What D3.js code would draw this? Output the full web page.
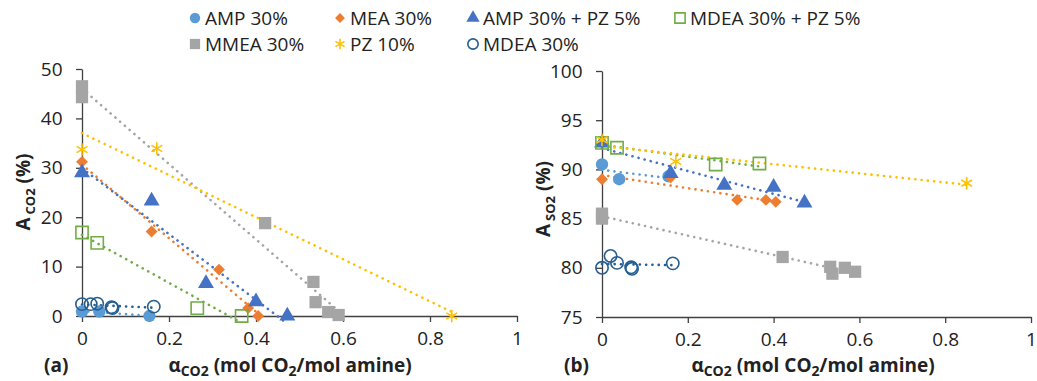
<!DOCTYPE html>
<html>
<head>
<meta charset="utf-8">
<script src="https://cdn.jsdelivr.net/npm/d3@7"></script>
<style>
  body { margin: 0; background: #fff; }
  svg { font-family: "Open Sans", sans-serif; }
</style>
</head>
<body>
<svg id="chart" width="1037" height="381"></svg>
<script>
// values: x = CO2 loading, a = A_CO2 (%), b = A_SO2 (%)
const ampX = [0, 0.04, 0.155]
const ampCO2 = [0.9, 0.9, 0]
const ampSO2 = [90.5, 89.0, 89.3]

const meaX = [0, 0.16, 0.315, 0.382, 0.405]
const meaCO2 = [31.2, 17.1, 9.4, 1.6, 0]
const meaSO2 = [89.0, 89.2, 86.9, 86.9, 86.7]

const ampPzX = [0, 0.16, 0.285, 0.4, 0.472]
const ampPzCO2 = [29.0, 23.3, 6.6, 2.9, 0]
const ampPzSO2 = [92.7, 89.6, 88.4, 88.2, 86.6]

const mdeaPzX = [0, 0.035, 0.265, 0.367]
const mdeaPzCO2 = [16.9, 14.8, 1.6, 0]
const mdeaPzSO2 = [92.7, 92.2, 90.5, 90.6]

const mmeaX = [0, 0, 0.421, 0.532, 0.537, 0.566, 0.59]
const mmeaCO2 = [46.5, 44.3, 18.8, 6.9, 2.8, 0.8, 0.2]
const mmeaSO2 = [85.5, 85.0, 81.1, 80.1, 79.4, 80.0, 79.6]

const pzX = [0, 0.172, 0.85]
const pzCO2 = [33.7, 33.9, 0]
const pzSO2 = [93.0, 90.8, 88.6]

const mdeaX = [0, 0.02, 0.035, 0.068, 0.07, 0.165]
const mdeaCO2 = [2.4, 2.4, 2.5, 1.8, 1.6, 1.9]
const mdeaSO2 = [80.0, 81.2, 80.5, 80.05, 79.9, 80.45]

const xTicks = [0, 0.2, 0.4, 0.6, 0.8, 1]
const co2Ticks = [0, 10, 20, 30, 40, 50]
const so2Ticks = [75, 80, 85, 90, 95, 100]

// series table built from the arrays above
const series = [
  { name: "AMP 30%", x: ampX, a: ampCO2, b: ampSO2, color: "#5B9BD5", shape: "circle", fill: true },
  { name: "MEA 30%", x: meaX, a: meaCO2, b: meaSO2, color: "#ED7D31", shape: "diamond", fill: true },
  { name: "AMP 30% + PZ 5%", x: ampPzX, a: ampPzCO2, b: ampPzSO2, color: "#4472C4", shape: "triangle", fill: true },
  { name: "MDEA 30% + PZ 5%", x: mdeaPzX, a: mdeaPzCO2, b: mdeaPzSO2, color: "#70AD47", shape: "square", fill: false },
  { name: "MMEA 30%", x: mmeaX, a: mmeaCO2, b: mmeaSO2, color: "#A5A5A5", shape: "square", fill: true },
  { name: "PZ 10%", x: pzX, a: pzCO2, b: pzSO2, color: "#FFC000", shape: "star", fill: false },
  { name: "MDEA 30%", x: mdeaX, a: mdeaCO2, b: mdeaSO2, color: "#255E91", shape: "circle", fill: false },
]

const svg = d3.select("#chart")
const AXIS = "#404040"

const symbolType = {
  circle: d3.symbolCircle,
  diamond: d3.symbolSquare, // rotated below
  triangle: d3.symbolTriangle,
  square: d3.symbolSquare,
  star: d3.symbolAsterisk,
}
const symbolSize = { circle: 120, diamond: 70, triangle: 110, square: 150, star: 110 }

function drawMarker(sel, s, scale) {
  const k = scale || 1
  sel.append("path")
    .attr("d", d3.symbol(symbolType[s.shape], symbolSize[s.shape] * k)())
    .attr("transform", s.shape === "diamond" ? "rotate(45)" : null)
    .attr("fill", s.fill ? s.color : "none")
    .attr("stroke", s.color)
    .attr("stroke-width", s.fill ? 0 : 1.6)
}

// least squares line like excel's linear trendline
function fit(xs, ys) {
  const mx = d3.mean(xs), my = d3.mean(ys)
  let sxy = 0, sxx = 0
  xs.forEach((x, i) => { sxy += (x - mx) * (ys[i] - my); sxx += (x - mx) * (x - mx) })
  const m = sxy / sxx
  return x => my + m * (x - mx)
}

function panel(opts) {
  const x = d3.scaleLinear().domain([0, 1]).range([opts.left, opts.right])
  const y = d3.scaleLinear().domain(opts.yDomain).range([opts.bottom, opts.top])

  const xAxis = svg.append("g")
    .attr("transform", `translate(0,${opts.bottom})`)
    .call(d3.axisBottom(x).tickValues(xTicks).tickSize(6).tickSizeOuter(0)
      .tickFormat(d => d3.format("~g")(d)))
  const yAxis = svg.append("g")
    .attr("transform", `translate(${opts.left},0)`)
    .call(d3.axisLeft(y).tickValues(opts.yTicks).tickSize(6).tickSizeOuter(0))
  for (const g of [xAxis, yAxis]) {
    g.selectAll("path, line").attr("stroke", AXIS).attr("stroke-width", 1.3)
    g.selectAll("text").attr("fill", "#222").attr("font-size", 19)
      .attr("font-family", "Open Sans, sans-serif")
  }
  xAxis.selectAll("text").attr("dy", "1.05em")
  yAxis.selectAll("text").attr("dx", "-0.55em")

  // trendlines
  for (const s of series) {
    const ys = s[opts.key]
    const f = fit(s.x, ys)
    const x0 = d3.min(s.x), x1 = d3.max(s.x)
    svg.append("line")
      .attr("x1", x(x0)).attr("y1", y(f(x0)))
      .attr("x2", x(x1)).attr("y2", y(f(x1)))
      .attr("stroke", s.color)
      .attr("stroke-width", 2.6)
      .attr("stroke-linecap", "round")
      .attr("stroke-dasharray", "0.1 6.2")
  }

  // points
  for (const s of series) {
    const ys = s[opts.key]
    s.x.forEach((v, i) => {
      const g = svg.append("g").attr("transform", `translate(${x(v)},${y(ys[i])})`)
      drawMarker(g, s)
    })
  }

  // axis titles
  const xt = svg.append("text")
    .attr("x", opts.xTitleX).attr("y", 372)
    .attr("text-anchor", "middle")
    .attr("font-weight", "bold").attr("font-size", 19).attr("fill", "#222")
  xt.append("tspan").text("\u03b1")
  xt.append("tspan").text("CO2").attr("font-size", 14).attr("dy", 4)
  xt.append("tspan").text(" (mol CO").attr("dy", -4)
  xt.append("tspan").text("2").attr("font-size", 14).attr("dy", 4)
  xt.append("tspan").text("/mol amine)").attr("dy", -4)

  svg.append("text")
    .attr("x", opts.tagX).attr("y", 372)
    .attr("font-weight", "bold").attr("font-size", 19).attr("fill", "#222")
    .text(opts.tag)

  const yt = svg.append("text")
    .attr("transform", `translate(${opts.yTitleX},${opts.yTitleY}) rotate(-90)`)
    .attr("text-anchor", "middle")
    .attr("font-weight", "bold").attr("font-size", 19).attr("fill", "#222")
  yt.append("tspan").text("A")
  yt.append("tspan").text(opts.sub).attr("font-size", 13).attr("dy", 5).attr("dx", 3)
  yt.append("tspan").text(" (%)").attr("dy", -5)
}

panel({ key: "a", left: 82, right: 517, top: 69, bottom: 316, yDomain: [0, 50], yTicks: co2Ticks,
  xTitleX: 290, tagX: 44, tag: "(a)", yTitleX: 30, yTitleY: 192, sub: "CO2" })
panel({ key: "b", left: 602, right: 1031, top: 71, bottom: 317, yDomain: [75, 100], yTicks: so2Ticks,
  xTitleX: 813, tagX: 564, tag: "(b)", yTitleX: 550, yTitleY: 199, sub: "SO2" })

// legend
const legendCols = [195, 340, 473, 680]
series.forEach((s, i) => {
  const row = i < 4 ? 0 : 1
  const col = i < 4 ? i : i - 4
  const g = svg.append("g").attr("transform", `translate(${legendCols[col]},${row === 0 ? 18 : 44})`)
  drawMarker(g, s, 0.7)
  g.append("text").attr("x", 10).attr("dy", "0.35em")
    .attr("font-size", 19).attr("fill", "#222")
    .text(s.name)
})
</script>
</body>
</html>
